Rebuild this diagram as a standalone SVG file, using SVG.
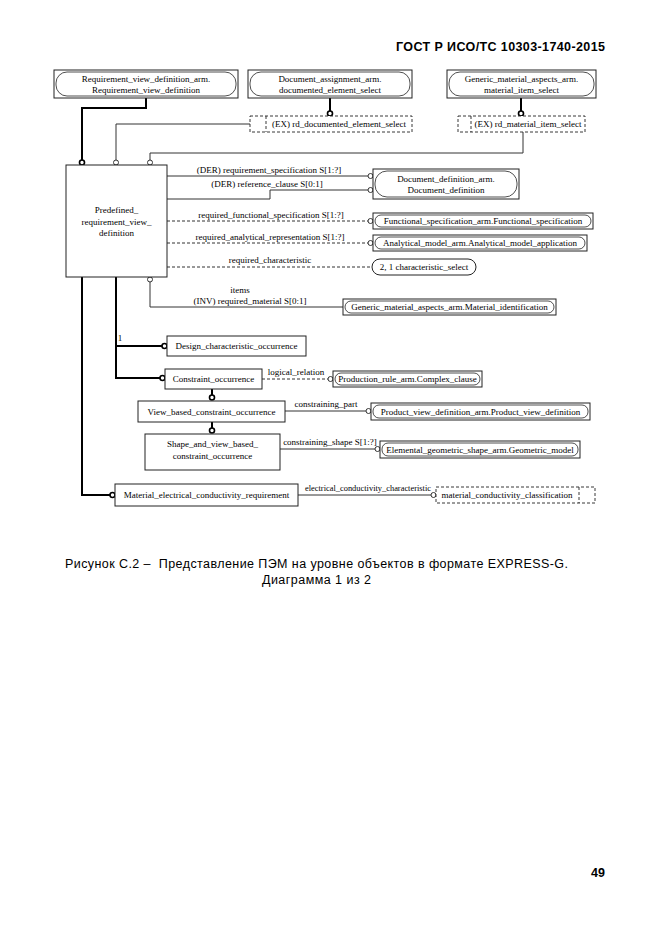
<svg xmlns="http://www.w3.org/2000/svg" width="661" height="935" viewBox="0 0 661 935">
<style>
.bg{fill:#fff}
.box{fill:#fff;stroke:#222;stroke-width:1}
.inner{fill:none;stroke:#222;stroke-width:0.8}
.dbox{fill:#fff;stroke:#222;stroke-width:0.9;stroke-dasharray:3,2}
.dl{fill:none;stroke:#222;stroke-width:0.9;stroke-dasharray:3,2}
.t{font-family:"Liberation Serif","Times New Roman",serif;font-size:9px;fill:#000;text-anchor:middle}
.thin{fill:none;stroke:#333;stroke-width:1}
.dash{fill:none;stroke:#333;stroke-width:1;stroke-dasharray:3,2}
.thick{fill:none;stroke:#000;stroke-width:2}
.oc{fill:#fff;stroke:#333;stroke-width:1}
.ocb{fill:#fff;stroke:#000;stroke-width:1.6}
.hdr{font-family:"Liberation Sans",Arial,sans-serif;font-weight:bold;font-size:12.5px;fill:#000}
.cap{font-family:"Liberation Sans",Arial,sans-serif;font-size:12.5px;fill:#000;white-space:pre}
</style>
<rect class="bg" x="0" y="0" width="661" height="935"/>
<text class="hdr" x="396" y="51" textLength="209" lengthAdjust="spacing">ГОСТ Р ИСО/ТС 10303-1740-2015</text>

<g id="connectors">
<path class="thick" d="M146,98 V108 H82 V160"/>
<circle class="ocb" cx="82" cy="162.5" r="2.5"/>
<path class="thick" d="M330,98 V111"/>
<circle class="ocb" cx="330" cy="113.5" r="2.5"/>
<path class="thick" d="M521,98 V111"/>
<circle class="ocb" cx="521" cy="113.5" r="2.5"/>
<path class="thin" d="M250,124 H116 V160"/>
<circle class="oc" cx="116" cy="162.5" r="2.5"/>
<path class="thin" d="M523,132 V153 H150 V160"/>
<circle class="oc" cx="150" cy="162.5" r="2.5"/>

<path class="thin" d="M167,176 H368"/>
<circle class="oc" cx="370.5" cy="176" r="2.5"/>
<path class="thin" d="M167,199 H270 V190 H368"/>
<circle class="oc" cx="370.5" cy="190" r="2.5"/>
<path class="dash" d="M167,221 H368"/>
<circle class="oc" cx="370.5" cy="221" r="2.5"/>
<path class="dash" d="M167,243 H368"/>
<circle class="oc" cx="370.5" cy="243" r="2.5"/>
<path class="dash" d="M167,267 H372"/>

<circle class="oc" cx="150" cy="279.5" r="2.5"/>
<path class="thin" d="M150,282 V307 H343"/>

<path class="thick" d="M116,277 V378 H160"/>
<circle class="ocb" cx="162.5" cy="378" r="2.5"/>
<path class="thick" d="M116,346 H162"/>
<circle class="ocb" cx="164.5" cy="346" r="2.5"/>
<path class="thick" d="M82,277 V495 H110"/>
<circle class="ocb" cx="112.5" cy="495" r="2.5"/>

<path class="dash" d="M262,379 H328"/>
<circle class="oc" cx="330.5" cy="379" r="2.5"/>
<path class="thick" d="M212,389 V395"/>
<circle class="ocb" cx="212" cy="397.5" r="2.5"/>
<path class="thin" d="M285,411 H366"/>
<circle class="oc" cx="368.5" cy="411" r="2.5"/>
<path class="thick" d="M212,422 V428"/>
<circle class="ocb" cx="212" cy="430.5" r="2.5"/>
<path class="thin" d="M280,449 H375"/>
<circle class="oc" cx="377.5" cy="449" r="2.5"/>
<path class="thin" d="M298,495 H431"/>
<circle class="oc" cx="433.5" cy="495" r="2.5"/>

<text class="t" x="269" y="173">(DER) requirement_specification S[1:?]</text>
<text class="t" x="267" y="187">(DER) reference_clause S[0:1]</text>
<text class="t" x="271" y="218">required_functional_specification S[1:?]</text>
<text class="t" x="270" y="240">required_analytical_representation S[1:?]</text>
<text class="t" x="270" y="263">required_characteristic</text>
<text class="t" x="240" y="293">items</text>
<text class="t" x="250" y="304">(INV) required_material S[0:1]</text>
<text class="t" x="120" y="341">1</text>
<text class="t" x="296" y="375">logical_relation</text>
<text class="t" x="326" y="407">constraining_part</text>
<text class="t" x="330" y="445">constraining_shape S[1:?]</text>
<text class="t" x="368" y="491" textLength="126" lengthAdjust="spacingAndGlyphs">electrical_conductivity_characteristic</text>
</g>

<g id="n_req_view">
<rect class="box" x="54" y="70" width="184" height="28"/>
<rect class="inner" x="56" y="72" width="180" height="24" rx="11"/>
<text class="t" x="146" y="82">Requirement_view_definition_arm.</text>
<text class="t" x="146" y="93">Requirement_view_definition</text>
</g>
<g id="n_doc_assign">
<rect class="box" x="248" y="70" width="164" height="28"/>
<rect class="inner" x="250" y="72" width="160" height="24" rx="11"/>
<text class="t" x="330" y="82">Document_assignment_arm.</text>
<text class="t" x="330" y="93">documented_element_select</text>
</g>
<g id="n_gen_mat">
<rect class="box" x="447" y="70" width="149" height="28"/>
<rect class="inner" x="449" y="72" width="145" height="24" rx="11"/>
<text class="t" x="521.5" y="82">Generic_material_aspects_arm.</text>
<text class="t" x="521.5" y="93">material_item_select</text>
</g>
<g id="n_rd_doc">
<rect class="dbox" x="250" y="116" width="162" height="16"/>
<path class="dl" d="M266,116 V132"/>
<text class="t" x="339" y="127">(EX) rd_documented_element_select</text>
</g>
<g id="n_rd_mat">
<rect class="dbox" x="458" y="116" width="127" height="16"/>
<path class="dl" d="M471,116 V132"/>
<text class="t" x="528" y="127">(EX) rd_material_item_select</text>
</g>
<g id="n_predef">
<rect class="box" x="66" y="165" width="101" height="112"/>
<text class="t" x="116.5" y="213">Predefined_</text>
<text class="t" x="116.5" y="225">requirement_view_</text>
<text class="t" x="116.5" y="236">definition</text>
</g>
<g id="n_doc_def">
<rect class="box" x="373" y="169" width="146" height="30"/>
<rect class="inner" x="375" y="171" width="142" height="26" rx="12"/>
<text class="t" x="446" y="182">Document_definition_arm.</text>
<text class="t" x="446" y="193">Document_definition</text>
</g>
<g id="n_func">
<rect class="box" x="373" y="213" width="220" height="16"/>
<rect class="inner" x="375" y="215" width="216" height="12" rx="6"/>
<text class="t" x="483" y="224">Functional_specification_arm.Functional_specification</text>
</g>
<g id="n_anal">
<rect class="box" x="373" y="235" width="214" height="16"/>
<rect class="inner" x="375" y="237" width="210" height="12" rx="6"/>
<text class="t" x="480" y="246">Analytical_model_arm.Analytical_model_application</text>
</g>
<g id="n_char">
<rect class="box" x="372" y="259" width="104" height="16" rx="8"/>
<text class="t" x="424" y="270">2, 1 characteristic_select</text>
</g>
<g id="n_mat_id">
<rect class="box" x="343" y="299" width="213" height="16"/>
<rect class="inner" x="345" y="301" width="209" height="12" rx="6"/>
<text class="t" x="449.5" y="310">Generic_material_aspects_arm.Material_identification</text>
</g>
<g id="n_design">
<rect class="box" x="167" y="336" width="139" height="20"/>
<text class="t" x="236.5" y="349">Design_characteristic_occurrence</text>
</g>
<g id="n_constraint">
<rect class="box" x="165" y="369" width="97" height="20"/>
<text class="t" x="213.5" y="382">Constraint_occurrence</text>
</g>
<g id="n_prod_rule">
<rect class="box" x="333" y="371" width="149" height="16"/>
<rect class="inner" x="335" y="373" width="145" height="12" rx="6"/>
<text class="t" x="407.5" y="382">Production_rule_arm.Complex_clause</text>
</g>
<g id="n_view_based">
<rect class="box" x="138" y="401" width="147" height="21"/>
<text class="t" x="211.5" y="414.5">View_based_constraint_occurrence</text>
</g>
<g id="n_prod_view">
<rect class="box" x="371" y="403" width="219" height="17"/>
<rect class="inner" x="373" y="405" width="215" height="13" rx="6"/>
<text class="t" x="480.5" y="415">Product_view_definition_arm.Product_view_definition</text>
</g>
<g id="n_shape">
<rect class="box" x="145" y="434" width="135" height="36"/>
<text class="t" x="212.5" y="447">Shape_and_view_based_</text>
<text class="t" x="212.5" y="459">constraint_occurrence</text>
</g>
<g id="n_elem">
<rect class="box" x="380" y="441" width="200" height="17"/>
<rect class="inner" x="382" y="443" width="196" height="13" rx="6"/>
<text class="t" x="480" y="453">Elemental_geometric_shape_arm.Geometric_model</text>
</g>
<g id="n_mat_elec">
<rect class="box" x="115" y="484" width="183" height="22"/>
<text class="t" x="206.5" y="498">Material_electrical_conductivity_requirement</text>
</g>
<g id="n_mat_cond">
<rect class="dbox" x="436" y="487" width="159" height="16"/>
<path class="dl" d="M579,487 V503"/>
<text class="t" x="507" y="498">material_conductivity_classification</text>
</g>

<text class="cap" x="65" y="568" textLength="503" lengthAdjust="spacing">Рисунок С.2 –  Представление ПЭМ на уровне объектов в формате EXPRESS-G.</text>
<text class="cap" x="262" y="584" textLength="109" lengthAdjust="spacing">Диаграмма 1 из 2</text>
<text class="hdr" x="605" y="877" text-anchor="end">49</text>
</svg>
